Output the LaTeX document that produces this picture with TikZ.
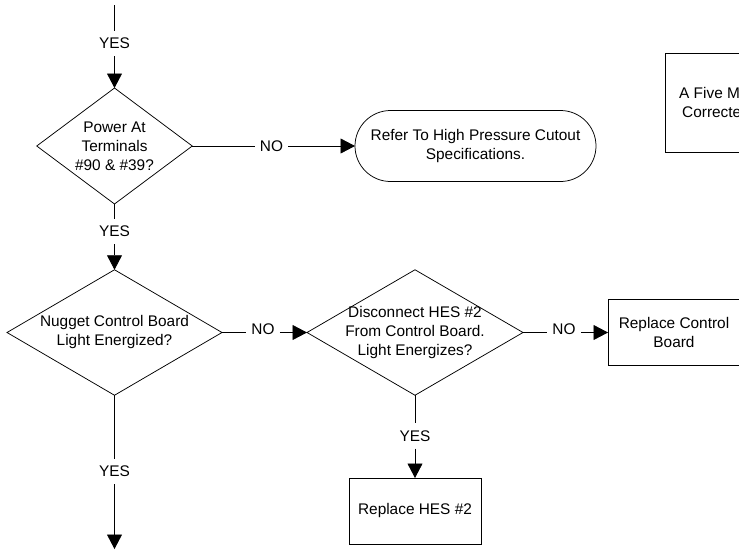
\documentclass[tikz,border=0pt]{standalone}
\usepackage{fontspec}
\setmainfont{Liberation Sans}
\usetikzlibrary{arrows.meta,shapes.geometric,shapes.misc}
\tikzset{
  txt/.style={font=\fontsize{15.4}{19}\selectfont,align=center,text=black,inner sep=0pt},
  shp/.style={draw=black,line width=0.75pt,outer sep=0pt,inner sep=0pt},
  dec/.style={shp,diamond},
  boxn/.style={shp,txt,rectangle,minimum width=132pt,minimum height=66pt},
  term/.style={shp,txt,rounded rectangle,minimum width=241pt,minimum height=71pt},
  lbl/.style={txt,minimum height=25pt,inner xsep=5pt},
  lin/.style={draw=black,line width=0.75pt},
  arr/.style={lin,-{Triangle[width=15pt,length=14.5pt]}}
}
\begin{document}
\begin{tikzpicture}[x=1pt,y=-1pt]
\useasboundingbox (0,0) rectangle (739,550);
\coordinate (start) at (114.5,5);
\coordinate (endd) at (114.5,549);
\node[dec,minimum width=155.5pt,minimum height=116pt,label={[txt]center:{Power At\\Terminals\\\#90 \& \#39?}}] (d1) at (114.5,146) {};
\node[dec,minimum width=215pt,minimum height=125.5pt,label={[txt]center:{Nugget Control Board\\Light Energized?}}] (d2) at (114.5,332.5) {};
\node[dec,minimum width=216pt,minimum height=125.5pt,label={[txt]center:{Disconnect HES \#2\\From Control Board.\\Light Energizes?}}] (d3) at (415,332.5) {};
\node[term] (t1) at (475.5,146) {Refer To High Pressure Cutout\\Specifications.};
\node[boxn] (b1) at (674,332.5) {Replace Control\\Board};
\node[boxn] (b2) at (415,511) {Replace HES \#2};
\node[shp,rectangle,minimum width=132pt,minimum height=99pt] (b3) at (731.5,102.5) {};
\node[txt,anchor=west,align=left] at (679,102) {A Five M\\\hspace*{3pt}Correcte};
\node[lbl] (y1) at (114.5,43.5) {YES};
\node[lbl] (y2) at (114.5,231.5) {YES};
\node[lbl] (y3) at (114.5,471.5) {YES};
\node[lbl] (y4) at (415,436) {YES};
\node[lbl] (n1) at (271.5,146) {NO};
\node[lbl] (n2) at (263,329) {NO};
\node[lbl] (n3) at (564,329) {NO};
\draw[lin] (start) -- (y1.north);
\draw[arr] (y1.south) -- (d1.north);
\draw[lin] (d1.south) -- (y2.north);
\draw[arr] (y2.south) -- (d2.north);
\draw[lin] (d2.south) -- (y3.north);
\draw[arr] (y3.south) -- (endd);
\draw[lin] (d3.south) -- (y4.north);
\draw[arr] (y4.south) -- (b2.north);
\draw[lin] (d1.east) -- (n1.west);
\draw[arr] (n1.east) -- (t1.west);
\draw[lin] (d2.east) -- (d2.east -| n2.west);
\draw[arr] (d2.east -| n2.east) -- (d3.west);
\draw[lin] (d3.east) -- (d3.east -| n3.west);
\draw[arr] (d3.east -| n3.east) -- (b1.west);
\end{tikzpicture}
\end{document}
